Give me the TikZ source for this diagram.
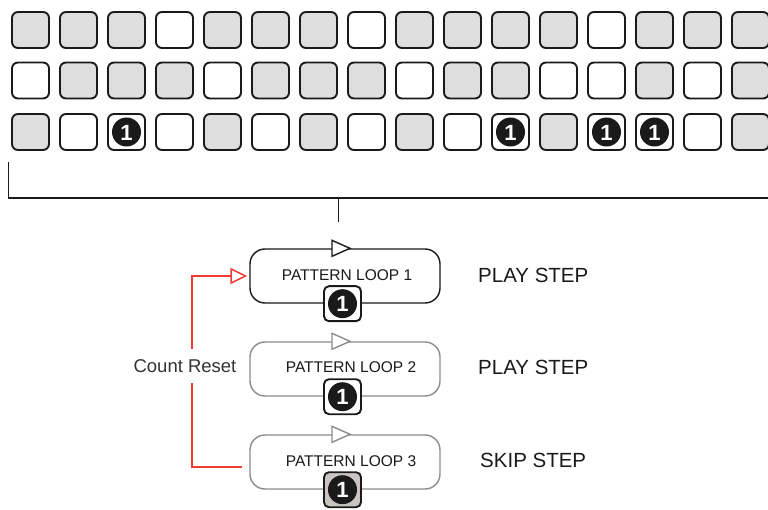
\documentclass[tikz,border=0pt]{standalone}
\usepackage{fontspec}
\setmainfont{Liberation Sans}
\usetikzlibrary{arrows.meta}
\definecolor{cellgray}{HTML}{DEDEDE}
\definecolor{badgegray}{HTML}{C9C5C1}
\definecolor{loopgray}{HTML}{8C8C8C}
\definecolor{resetred}{HTML}{EE3B33}
\definecolor{ink}{HTML}{1A1A1A}
\definecolor{labelgray}{HTML}{333333}
\begin{document}
\begin{tikzpicture}[x=1pt,y=-1pt,
  cell/.style={draw=ink, line width=1.9pt, rounded corners=6pt, minimum width=37pt,
    minimum height=36pt, inner sep=0pt, fill=white},
  cellW/.style={cell},
  cellG/.style={cell, fill=cellgray},
  onemark/.style={path picture={
      \fill[ink] (path picture bounding box.center) circle (14.5pt);
      \node[text=white, inner sep=0pt, font=\fontsize{22}{22}\selectfont\bfseries]
        at ([yshift=-0.5pt]path picture bounding box.center) {1};}},
  cellO/.style={cell, onemark},
  loopbox/.style={rounded corners=15pt, minimum width=190pt, minimum height=54pt,
    inner sep=0pt, line width=1.4pt, fill=white},
  badge/.style={draw=ink, line width=1.9pt, rounded corners=5pt, minimum width=37pt,
    minimum height=35pt, inner sep=0pt, fill=white, onemark},
  tri/.style={line width=1.4pt, fill=white, line join=miter},
  looptext/.style={inner sep=0pt, text=ink, font=\fontsize{15.5}{18}\selectfont},
  steptext/.style={inner sep=0pt, anchor=west, text=ink, font=\fontsize{20.5}{24}\selectfont},
  resettext/.style={fill=white, inner xsep=2pt, minimum height=34pt, text=labelgray,
    font=\fontsize{18.5}{22}\selectfont},
  bracket/.style={draw=ink, line width=1.5pt},
  redline/.style={draw=resetred, line width=1.7pt},
]
\useasboundingbox (0,0) rectangle (768,510);

% step grid
\foreach \r/\yy/\pat in {
  1/30/{G,G,G,W,G,G,G,W,G,G,G,G,W,G,G,G},
  2/80.5/{W,G,G,G,W,G,G,G,W,G,G,W,W,G,W,G},
  3/132/{G,W,O,W,G,W,G,W,G,W,O,G,O,O,W,G}} {
  \foreach \t [count=\i from 0] in \pat {
    \pgfmathsetmacro\xx{30.5+48*\i}
    \node[cell\t] (c\r-\i) at (\xx,\yy) {};
  }
}

% bracket and stem
\coordinate (bL) at (8.5,162);
\coordinate (bR) at (772,198);
\draw[bracket] (bL) |- (bR);
\coordinate (sT) at (338.5,198);
\coordinate (sB) at (338.5,222);
\draw[bracket] (sT) -- (sB);

% pattern loops
\node[loopbox, draw=ink] (loop1) at (345,276) {};
\node[loopbox, draw=loopgray] (loop2) at (345,369) {};
\node[loopbox, draw=loopgray] (loop3) at (345,462) {};

\draw[tri, draw=ink] ([shift={(-13,-8)}]loop1.north) -- ([shift={(5,0)}]loop1.north)
  -- ([shift={(-13,8)}]loop1.north) -- cycle;
\draw[tri, draw=loopgray] ([shift={(-13,-8)}]loop2.north) -- ([shift={(5,0)}]loop2.north)
  -- ([shift={(-13,8)}]loop2.north) -- cycle;
\draw[tri, draw=loopgray] ([shift={(-13,-8)}]loop3.north) -- ([shift={(5,0)}]loop3.north)
  -- ([shift={(-13,8)}]loop3.north) -- cycle;

\node[looptext] (t1) at ([xshift=2pt,yshift=1pt]loop1.center) {PATTERN LOOP 1};
\node[looptext] (t2) at ([xshift=6pt,yshift=2pt]loop2.center) {PATTERN LOOP 2};
\node[looptext] (t3) at ([xshift=6pt,yshift=1pt]loop3.center) {PATTERN LOOP 3};

\node[badge] (b1) at ([xshift=-2.5pt]loop1.south) {};
\node[badge] (b2) at ([xshift=-2.5pt]loop2.south) {};
\node[badge, fill=badgegray] (b3) at ([xshift=-2.5pt]loop3.south) {};

% step labels
\node[steptext] (s1) at (478,275) {PLAY STEP};
\node[steptext] (s2) at (478,367) {PLAY STEP};
\node[steptext] (s3) at (480,460) {SKIP STEP};

% count reset connector
\draw[redline, -{Triangle[open, length=17pt, width=16pt, line width=1.5pt]}]
  ([xshift=-7pt,yshift=-5pt]loop3.west) -| ([xshift=-57pt]loop1.west)
  -- ([xshift=-2pt]loop1.west);
\node[resettext] (cr) at (185,366) {Count Reset};
\end{tikzpicture}
\end{document}
